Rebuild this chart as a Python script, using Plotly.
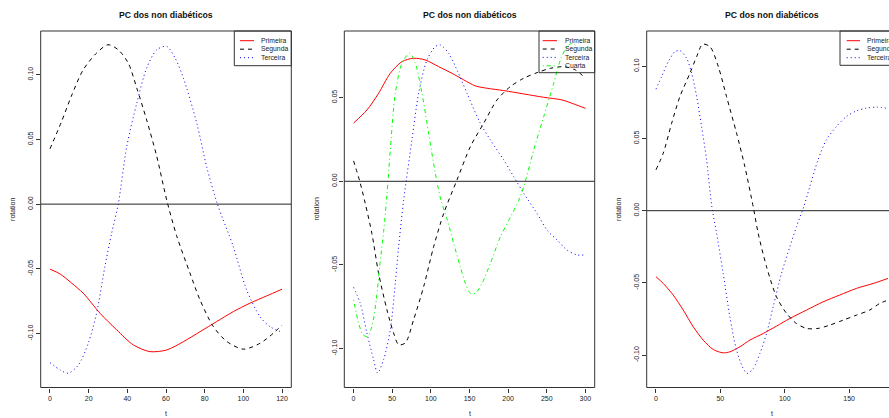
import plotly.graph_objects as go

W, H = 889, 418

# ---------------- data ----------------
title_text = "PC dos non diabéticos"
series_names = ["Primeira", "Segunda", "Terceira", "Cuarta"]

# Panel 1
p1_t_prim = [0, 5.2, 11.2, 17.2, 25.9, 34.5, 43.1, 51.7, 60.4, 69, 77.6, 86.2, 94.8, 103.4, 112, 120]
p1_v_prim = [-0.0502, -0.0539, -0.061, -0.0688, -0.0843, -0.0971, -0.1087, -0.1139, -0.1126, -0.1062,
             -0.0985, -0.0907, -0.083, -0.0765, -0.0709, -0.0657]
p1_t_seg = [0, 6, 11, 17.2, 24.1, 30, 35.3, 40.5, 44.9, 50, 55.2, 60.4, 65.5, 72.4, 77.6, 84.5, 91.4, 100,
            108.6, 115.5, 120]
p1_v_seg = [0.0427, 0.0638, 0.0832, 0.1038, 0.1167, 0.1231, 0.1192, 0.1089, 0.0896, 0.065, 0.037, 0.003,
            -0.0244, -0.0533, -0.074, -0.0946, -0.106, -0.112, -0.1075, -0.0997, -0.0933]
p1_t_ter = [0, 5.2, 9.5, 14.7, 19.8, 24.1, 28.4, 31.9, 35.3, 39.7, 44.9, 50, 55.2, 60.4, 64.7, 69, 75.9,
            81, 86.6, 94.8, 101.7, 108.6, 113.8, 120]
p1_v_ter = [-0.1224, -0.128, -0.1306, -0.1242, -0.1074, -0.0843, -0.0482, -0.0224, 0.0, 0.0445, 0.078,
            0.1051, 0.1192, 0.1218, 0.1128, 0.0974, 0.0626, 0.029, 0.0, -0.0328, -0.0662, -0.0869,
            -0.0946, -0.099]

# Panel 2
p2_t_prim = [0, 17.3, 32.4, 47.5, 62.6, 77.7, 92.8, 110, 127.4, 142.5, 157.6, 172.7, 194.3, 220.2, 246,
             269.8, 285, 300]
p2_v_prim = [0.0348, 0.0426, 0.0526, 0.0645, 0.0715, 0.0735, 0.0725, 0.0685, 0.0645, 0.0606, 0.057,
             0.0556, 0.0542, 0.0522, 0.0502, 0.0486, 0.0462, 0.0436]
p2_t_seg = [0, 8, 15, 23.7, 32.4, 43.2, 51.8, 58.3, 66.9, 77.7, 90.7, 103.6, 116.6, 133.8, 151.1, 168.4,
            185.6, 202.9, 220.2, 237.4, 254.7, 272, 287.1, 300]
p2_v_seg = [0.0122, 0.0, -0.013, -0.0312, -0.055, -0.0768, -0.0907, -0.0976, -0.0966, -0.0827, -0.0629,
            -0.0391, -0.0192, 0.0008, 0.0207, 0.0347, 0.0486, 0.0566, 0.0616, 0.0649, 0.0675, 0.0685,
            0.0665, 0.0616]
p2_t_ter = [0, 8.6, 17.3, 25.9, 31.1, 38.9, 47.5, 54, 58.3, 64.8, 75.5, 84.2, 95, 105.8, 112.2, 123,
            133.8, 146.8, 164, 177, 194.3, 207.2, 220.2, 237.4, 250.4, 263.3, 276.3, 289.2, 298]
p2_v_ter = [-0.0633, -0.0728, -0.0907, -0.1065, -0.1145, -0.1065, -0.0887, -0.0609, -0.0391, -0.0113,
            0.0247, 0.0526, 0.0725, 0.0805, 0.0815, 0.0765, 0.0665, 0.0526, 0.0347, 0.0247, 0.0127,
            0.0028, -0.0072, -0.0192, -0.0292, -0.0351, -0.0411, -0.044, -0.044]
p2_t_cua = [0, 6.5, 12.1, 18.1, 23.7, 29.4, 33.7, 38.9, 43.2, 47.5, 54, 62.6, 72.5, 79.9, 88.5, 97.1,
            105.8, 113, 120.9, 129.5, 138.1, 144.6, 151.1, 157.6, 166.3, 177, 190, 202.9, 213.7, 220.2,
            233.1, 246, 259, 267.6, 276.3, 282.8, 288]
p2_v_cua = [-0.0708, -0.0847, -0.0917, -0.0927, -0.0867, -0.0708, -0.051, -0.03, -0.008, 0.0187, 0.0526,
            0.0705, 0.0765, 0.0705, 0.0526, 0.0287, 0.0048, -0.0112, -0.0225, -0.0371, -0.051, -0.0609,
            -0.0669, -0.0669, -0.0609, -0.049, -0.0331, -0.0215, -0.0113, -0.0032, 0.0187, 0.0386,
            0.0586, 0.0725, 0.0805, 0.0825, 0.081]

# Panel 3
p3_t_prim = [0, 5.7, 13.4, 21.2, 29, 36.7, 44.5, 52.2, 57.4, 65.2, 72.9, 83.3, 93.6, 104, 116.9, 129.8,
             142.7, 155.7, 168.6, 180.2]
p3_v_prim = [-0.0457, -0.0504, -0.0584, -0.0688, -0.0804, -0.0896, -0.0961, -0.0984, -0.0977, -0.0942,
             -0.0896, -0.085, -0.0799, -0.0746, -0.0688, -0.0631, -0.0584, -0.0538, -0.0504, -0.0469]
p3_t_seg = [0, 5.7, 12.2, 18.6, 26.4, 31.6, 36.2, 41.9, 48.4, 54.8, 62.6, 69, 75.5, 79.4, 85.9, 93.6,
            101.4, 109.1, 116.9, 125.9, 135, 145.3, 155.7, 166, 173.8, 180.2]
p3_v_seg = [0.0283, 0.0399, 0.0606, 0.079, 0.0952, 0.1067, 0.1152, 0.1136, 0.0998, 0.079, 0.0537, 0.0307,
            0.0028, -0.0157, -0.0388, -0.0596, -0.0711, -0.0781, -0.0815, -0.0815, -0.0792, -0.0758,
            -0.0723, -0.0688, -0.0642, -0.0619]
p3_t_ter = [0, 4.4, 9.6, 14.7, 18.6, 23.8, 27.7, 31.6, 35.4, 39.3, 43.2, 47.1, 52.2, 57.4, 62.6, 67.8,
            70.9, 75.5, 80.7, 85.9, 91, 97.5, 104, 109.1, 114.9, 119.5, 125.9, 132.4, 140.2, 147.9, 155.7,
            163.4, 171.2, 178.9]
p3_v_ter = [0.0841, 0.0929, 0.1032, 0.1101, 0.1108, 0.1055, 0.0952, 0.079, 0.0583, 0.0353, 0.0040,
            -0.0157, -0.0434, -0.0735, -0.0966, -0.1093, -0.1127, -0.1093, -0.0989, -0.085, -0.0665,
            -0.0434, -0.0249, -0.0111, 0.003, 0.0168, 0.0353, 0.0491, 0.0583, 0.0652, 0.0691, 0.071,
            0.0717, 0.071]

p1_xticks = [0, 20, 40, 60, 80, 100, 120]
p2_xticks = [0, 50, 100, 150, 200, 250, 300]
p3_xticks = [0, 50, 100, 150]
p1_yticks = [-0.10, -0.05, 0.00, 0.05, 0.10]
p2_yticks = [-0.10, -0.05, 0.00, 0.05]
p3_yticks = [-0.10, -0.05, 0.00, 0.05, 0.10]

# ---------------- styling ----------------
colors = {"Primeira": "#FF0000", "Segunda": "#000000", "Terceira": "#0000FF", "Cuarta": "#00FF00"}
dashes = {"Primeira": "solid", "Segunda": "4px,4px", "Terceira": "1px,3px", "Cuarta": "1px,3px,4px,3px"}
FONT = "Liberation Sans, Arial, sans-serif"
TXT = "#222222"

# pixel geometry of the panels (left, right, top, bottom)
panels = [
    dict(l=40.7, r=291.3, t=31, b=387.5, xr=[-4.8, 124.8], yr=[-0.1416, 0.1337]),
    dict(l=344.3, r=594.7, t=31, b=387.5, xr=[-12, 312], yr=[-0.1232, 0.0898]),
    dict(l=646.7, r=897.0, t=31, b=387.5, xr=[-7.2, 187.2], yr=[-0.1224, 0.1244]),
]

def fx(x):
    return x / W

def fy(y):
    return 1 - y / H

def fmt(v):
    return ("%.2f" % v).replace("\u2212", "-")

fig = go.Figure()

panel_series = [
    [("Primeira", p1_t_prim, p1_v_prim), ("Segunda", p1_t_seg, p1_v_seg), ("Terceira", p1_t_ter, p1_v_ter)],
    [("Primeira", p2_t_prim, p2_v_prim), ("Segunda", p2_t_seg, p2_v_seg), ("Terceira", p2_t_ter, p2_v_ter),
     ("Cuarta", p2_t_cua, p2_v_cua)],
    [("Primeira", p3_t_prim, p3_v_prim), ("Segunda", p3_t_seg, p3_v_seg), ("Terceira", p3_t_ter, p3_v_ter)],
]
xticks_all = [p1_xticks, p2_xticks, p3_xticks]
yticks_all = [p1_yticks, p2_yticks, p3_yticks]

shapes = []
annotations = []
layout_axes = {}

legend_geo = [
    dict(x0=234.3, x1=291.3, y1=65.7, ls=240, le=254, tx=259, ys=[40.7, 49.2, 57.7]),
    dict(x0=539.0, x1=594.7, y1=72.7, ls=542.7, le=557.0, tx=562.5, ys=[40.7, 49.0, 57.4, 65.8]),
    dict(x0=840.0, x1=897.0, y1=65.3, ls=846.7, le=860.0, tx=865.3, ys=[40.7, 49.2, 57.7]),
]

for i, p in enumerate(panels):
    sfx = "" if i == 0 else str(i + 1)
    xa, ya = "x" + sfx, "y" + sfx
    x_dom_r = min(p["r"], W)
    xr = list(p["xr"])
    if p["r"] > W:
        # panel is cut off by the right edge of the picture
        xr[1] = p["xr"][0] + (p["xr"][1] - p["xr"][0]) * (W - p["l"]) / (p["r"] - p["l"])
    layout_axes["xaxis" + sfx] = dict(
        domain=[fx(p["l"]), fx(x_dom_r)], range=xr, anchor=ya,
        tickvals=xticks_all[i], ticktext=[str(v) for v in xticks_all[i]],
        ticks="outside", ticklen=4, tickwidth=1, tickcolor="#333333",
        showgrid=False, zeroline=False, showline=False,
        tickfont=dict(family=FONT, size=7, color=TXT),
    )
    layout_axes["yaxis" + sfx] = dict(
        domain=[fy(p["b"]), fy(p["t"])], range=p["yr"], anchor=xa,
        tickvals=yticks_all[i], ticktext=[fmt(v) for v in yticks_all[i]], tickangle=-90,
        ticks="outside", ticklen=4, tickwidth=1, tickcolor="#333333",
        showgrid=False, zeroline=False, showline=False,
        tickfont=dict(family=FONT, size=7, color=TXT),
    )
    for name, t, v in panel_series[i]:
        fig.add_trace(go.Scatter(
            x=t, y=v, mode="lines", name=name, showlegend=False, xaxis=xa, yaxis=ya,
            line=dict(color=colors[name], width=1, dash=dashes[name], shape="spline", smoothing=0.8),
            hoverinfo="skip",
        ))
    # zero line (abline h=0)
    shapes.append(dict(type="line", xref=xa + " domain", yref=ya, x0=0, x1=1, y0=0, y1=0,
                       line=dict(color="#222222", width=1)))
    # plot box
    shapes.append(dict(type="rect", xref="paper", yref="paper",
                       x0=fx(p["l"]), x1=fx(p["r"]), y0=fy(p["b"]), y1=fy(p["t"]),
                       line=dict(color="#333333", width=1)))
    cx = (p["l"] + p["r"]) / 2
    annotations.append(dict(text="<b>" + title_text + "</b>", xref="paper", yref="paper",
                            x=fx(cx), y=fy(15), xanchor="center", yanchor="middle", showarrow=False,
                            font=dict(family=FONT, size=8.7, color="#111111")))
    annotations.append(dict(text="t", xref="paper", yref="paper", x=fx(cx), y=fy(413),
                            xanchor="center", yanchor="middle", showarrow=False,
                            font=dict(family=FONT, size=7, color=TXT)))
    annotations.append(dict(text="rotation", xref="paper", yref="paper", x=fx(p["l"] - 28),
                            y=fy((p["t"] + p["b"]) / 2), xanchor="center", yanchor="middle",
                            textangle=-90, showarrow=False,
                            font=dict(family=FONT, size=7, color=TXT)))
    # legend (R style)
    g = legend_geo[i]
    shapes.append(dict(type="rect", xref="paper", yref="paper", x0=fx(g["x0"]), x1=fx(g["x1"]),
                       y0=fy(g["y1"]), y1=fy(p["t"]), line=dict(color="#333333", width=1)))
    for (name, _, _), yy in zip(panel_series[i], g["ys"]):
        shapes.append(dict(type="line", xref="paper", yref="paper", x0=fx(g["ls"]), x1=fx(g["le"]),
                           y0=fy(yy), y1=fy(yy),
                           line=dict(color=colors[name], width=1, dash=dashes[name])))
        annotations.append(dict(text=name, xref="paper", yref="paper", x=fx(g["tx"]), y=fy(yy),
                                xanchor="left", yanchor="middle", showarrow=False,
                                font=dict(family=FONT, size=6.8, color=TXT)))

fig.update_layout(
    width=W, height=H, margin=dict(l=0, r=0, t=0, b=0),
    paper_bgcolor="white", plot_bgcolor="white",
    shapes=shapes, annotations=annotations, showlegend=False,
    **layout_axes,
)

fig.write_html("out.html")
